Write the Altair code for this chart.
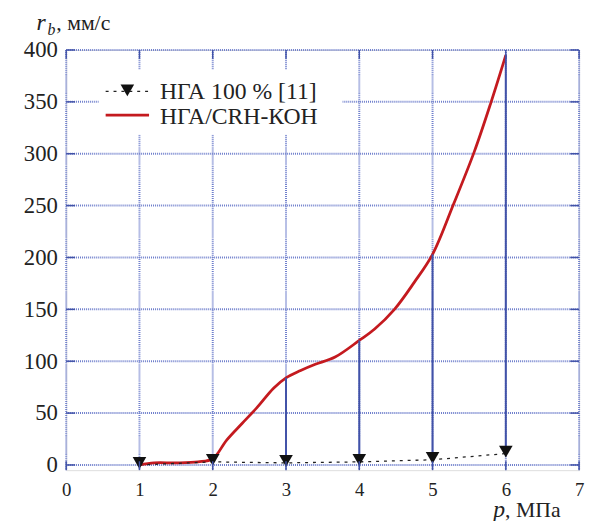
import altair as alt
import pandas as pd

# HГА/CRH-KOH (red curve)
p_red = [1.0, 1.2, 1.5, 1.8, 2.0, 2.19, 2.4, 2.6, 2.83, 3.0, 3.2, 3.4, 3.67, 4.0, 4.21,
         4.48, 4.75, 5.0, 5.29, 5.57, 5.8, 6.0]
r_red = [0, 2, 2, 3, 6, 24, 40, 55, 74, 84, 91, 97, 104, 120, 131,
         150, 176, 203, 252, 302, 350, 395]

# НГА 100 % [11]
p_nga = [1, 2, 3, 4, 5, 6]
r_nga = [0, 3, 2, 3, 5, 11]

x_ticks = [0, 1, 2, 3, 4, 5, 6, 7]
y_ticks = [0, 50, 100, 150, 200, 250, 300, 350, 400]
drop_p = [3, 4, 5, 6]

W, H = 520, 426
FONT = "Liberation Serif"
FRAME = "#4152a8"
GRID = "#6f7fcc"

red_lookup = dict(zip(p_red, r_red))
nga_lookup = dict(zip(p_nga, r_nga))

df_red = pd.DataFrame({"p": p_red, "r": r_red})
df_nga = pd.DataFrame({"p": p_nga, "r": r_nga})
df_drop = pd.DataFrame({"p": drop_p,
                        "top": [red_lookup[float(v)] for v in drop_p],
                        "bot": [nga_lookup[v] for v in drop_p]})
df_yt = pd.DataFrame({"p": [0] * len(y_ticks), "r": y_ticks})
df_xt = pd.DataFrame({"p": x_ticks, "r": [0] * len(x_ticks)})

xs = alt.Scale(domain=[0, 7], nice=False, zero=False)
ys = alt.Scale(domain=[-5, 400], nice=False, zero=False)

xaxis = alt.Axis(values=x_ticks, format="d", labelFont=FONT, labelFontSize=19,
                 labelColor="#222", labelPadding=11, ticks=False, domain=False,
                 grid=False, title=None, labelFlush=False)
yaxis = alt.Axis(values=y_ticks, format="d", labelFont=FONT, labelFontSize=23,
                 labelColor="#222", labelPadding=9, ticks=False, domain=False,
                 grid=False, title=None)


def X(f):
    return alt.X(f, type="quantitative", scale=xs, axis=xaxis)


def Y(f):
    return alt.Y(f, type="quantitative", scale=ys, axis=yaxis)


# dotted grid
grid_v = alt.Chart(df_xt).mark_rule(color=GRID, strokeWidth=2, strokeDash=[1, 1]).encode(
    x=X("p"), y=alt.value(0), y2=alt.value(H))
grid_h = alt.Chart(df_yt).mark_rule(color=GRID, strokeWidth=2, strokeDash=[1, 1]).encode(
    y=Y("r"), x=alt.value(0), x2=alt.value(W))

red = alt.Chart(df_red).mark_line(color="#c41a1f", strokeWidth=2.8, interpolate="catmull-rom").encode(
    x=X("p"), y=Y("r"))

drops = alt.Chart(df_drop).mark_rule(color=FRAME, strokeWidth=2).encode(
    x=X("p"), y=Y("top"), y2="bot:Q")

nga_line = alt.Chart(df_nga).mark_line(color="#222", strokeWidth=1.3, strokeDash=[3, 5]).encode(
    x=X("p"), y=Y("r"))
nga_pts = alt.Chart(df_nga).mark_point(shape="triangle-down", filled=True, color="#111",
                                       size=190, opacity=1, yOffset=-2).encode(
    x=X("p"), y=Y("r"))

# inward frame ticks
tick_l = alt.Chart(df_yt).mark_rule(color=FRAME, strokeWidth=1.5).encode(
    y=Y("r"), x=alt.value(0), x2=alt.value(9))
tick_r = alt.Chart(df_yt).mark_rule(color=FRAME, strokeWidth=1.5).encode(
    y=Y("r"), x=alt.value(W - 9), x2=alt.value(W))
tick_t = alt.Chart(df_xt).mark_rule(color=FRAME, strokeWidth=1.5).encode(
    x=X("p"), y=alt.value(0), y2=alt.value(9))
tick_b = alt.Chart(df_xt).mark_rule(color=FRAME, strokeWidth=1.5).encode(
    x=X("p"), y=alt.value(H - 9), y2=alt.value(H))

# legend
one = pd.DataFrame({"a": [0]})
leg_bg = alt.Chart(one).mark_rect(fill="white").encode(
    x=alt.value(33), x2=alt.value(280), y=alt.value(20), y2=alt.value(86))
leg_l1 = alt.Chart(one).mark_rule(color="#222", strokeWidth=1.3, strokeDash=[3, 5]).encode(
    x=alt.value(40), x2=alt.value(84), y=alt.value(42))
leg_p1 = alt.Chart(one).mark_point(shape="triangle-down", filled=True, color="#111",
                                   size=190, opacity=1).encode(
    x=alt.value(62), y=alt.value(41))
leg_l2 = alt.Chart(one).mark_rule(color="#c41a1f", strokeWidth=2.8).encode(
    x=alt.value(40), x2=alt.value(84), y=alt.value(66))
leg_t1 = alt.Chart(one).mark_text(text="НГА 100 % [11]", font=FONT, fontSize=24, color="#222",
                                  align="left", baseline="middle").encode(
    x=alt.value(95), y=alt.value(43))
leg_t2 = alt.Chart(one).mark_text(text="НГА/CRH-КОН", font=FONT, fontSize=24, color="#222",
                                  align="left", baseline="middle").encode(
    x=alt.value(95), y=alt.value(68))

# axis titles
t_r = alt.Chart(one).mark_text(text="r", font=FONT, fontSize=24, fontStyle="italic", color="#222",
                               align="left", baseline="alphabetic").encode(
    x=alt.value(-30), y=alt.value(-20))
t_b = alt.Chart(one).mark_text(text="b", font=FONT, fontSize=16, fontStyle="italic", color="#222",
                               align="left", baseline="alphabetic").encode(
    x=alt.value(-19), y=alt.value(-15))
t_rest = alt.Chart(one).mark_text(text=", мм/с", font=FONT, fontSize=22, color="#222",
                                  align="left", baseline="alphabetic").encode(
    x=alt.value(-10), y=alt.value(-20))
t_p = alt.Chart(one).mark_text(text="p", font=FONT, fontSize=24, fontStyle="italic", color="#222",
                               align="left", baseline="alphabetic").encode(
    x=alt.value(433), y=alt.value(473))
t_mpa = alt.Chart(one).mark_text(text=", МПа", font=FONT, fontSize=22, color="#222",
                                 align="left", baseline="alphabetic").encode(
    x=alt.value(445), y=alt.value(473))

chart = alt.layer(
    grid_v, grid_h, red, leg_bg, drops, nga_line, nga_pts, tick_l, tick_r, tick_t, tick_b,
    leg_l1, leg_p1, leg_l2, leg_t1, leg_t2, t_r, t_b, t_rest, t_p, t_mpa
).properties(
    width=W, height=H,
    autosize=alt.AutoSizeParams(type="none"),
    padding={"left": 59, "top": 39, "right": 7, "bottom": 48},
).configure_view(stroke=FRAME, strokeWidth=2).configure(background="white")

chart.save("out.html", embed_options={"renderer": "svg", "actions": False})
